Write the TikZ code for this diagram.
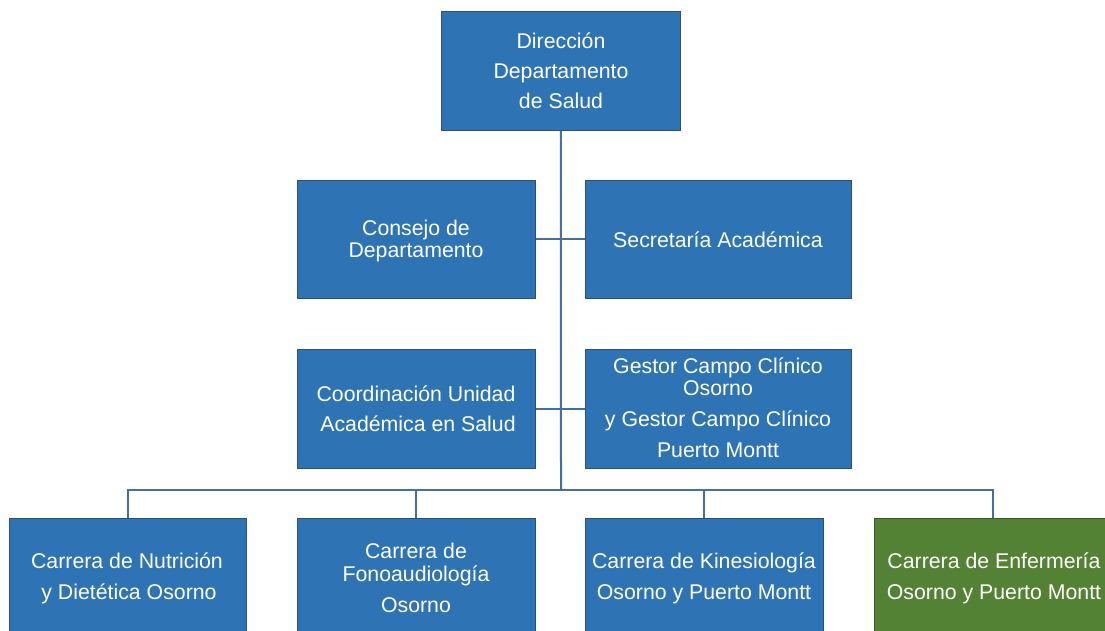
\documentclass[tikz,border=0pt]{standalone}
\usepackage{fontspec}
\setmainfont{Liberation Sans}
\definecolor{boxblue}{HTML}{2E74B5}
\definecolor{boxedge}{HTML}{2F4F7A}
\definecolor{boxgreen}{HTML}{548235}
\definecolor{greenedge}{HTML}{3A5A25}
\definecolor{linkblue}{HTML}{41719C}
\tikzset{
  orgbox/.style={draw=boxedge, line width=0.8pt, fill=boxblue, anchor=north west, inner sep=0pt},
  greenbox/.style={orgbox, draw=greenedge, fill=boxgreen},
  label/.style={text=white, align=center, inner sep=0pt, font=\fontsize{21.3}{21.5}\selectfont},
  link/.style={draw=linkblue, line width=2pt}
}
\begin{document}
\begin{tikzpicture}[x=1pt,y=-1pt]
\useasboundingbox (0,0) rectangle (1105,631);
\clip (0,0) rectangle (1105,631);
% boxes
\node[orgbox, minimum width=239pt, minimum height=119pt] (top) at (441,11) {};
\node[orgbox, minimum width=238pt, minimum height=118pt] (cons) at (297,180) {};
\node[orgbox, minimum width=266pt, minimum height=118pt] (sec) at (585,180) {};
\node[orgbox, minimum width=238pt, minimum height=119pt] (coord) at (297,349) {};
\node[orgbox, minimum width=266pt, minimum height=119pt] (gest) at (585,349) {};
\node[orgbox, minimum width=237pt, minimum height=140pt] (nut) at (9,518) {};
\node[orgbox, minimum width=238pt, minimum height=140pt] (fono) at (297,518) {};
\node[orgbox, minimum width=238pt, minimum height=140pt] (kine) at (585,518) {};
\node[greenbox, minimum width=238pt, minimum height=140pt] (enf) at (874,518) {};
% texts
\node[label] (ttop) at (561,71) {Dirección\\[8.5pt]Departamento\\[8.5pt]de Salud};
\node[label] (tcons) at (416,241) {Consejo de\\Departamento};
\node[label] (tsec) at (718,240) {Secretaría Académica};
\node[label] (tcoord) at (416,409) {Coordinación Unidad\\[8.5pt]\hspace{4pt}Académica en Salud};
\node[label] (tgest) at (718,408) {Gestor Campo Clínico\\Osorno\\[9.5pt]y Gestor Campo Clínico\\[9.5pt]Puerto Montt};
\node[label] (tnut) at (127,578.5) {Carrera de Nutrición\\[9.5pt]\hspace{4pt}y Dietética Osorno};
\node[label] (tfono) at (416,578) {Carrera de\\[1.5pt]Fonoaudiología\\[9.5pt]Osorno};
\node[label] (tkine) at (704,578.5) {Carrera de Kinesiología\\[9.5pt]Osorno y Puerto Montt};
\node[label] (tenf) at (994,578.5) {Carrera de Enfermería\\[9.5pt]Osorno y Puerto Montt};
% connectors
\coordinate (hub) at (561,490);
\draw[link] (top.south) -- (hub);
\draw[link] (cons.east) -- (sec.west);
\draw[link] (coord.east) -- (gest.west);
\draw[link] (nut.north) |- (hub);
\draw[link] (fono.north) |- (hub);
\draw[link] (kine.north) |- (hub);
\draw[link] (enf.north) |- (hub);
\end{tikzpicture}
\end{document}
